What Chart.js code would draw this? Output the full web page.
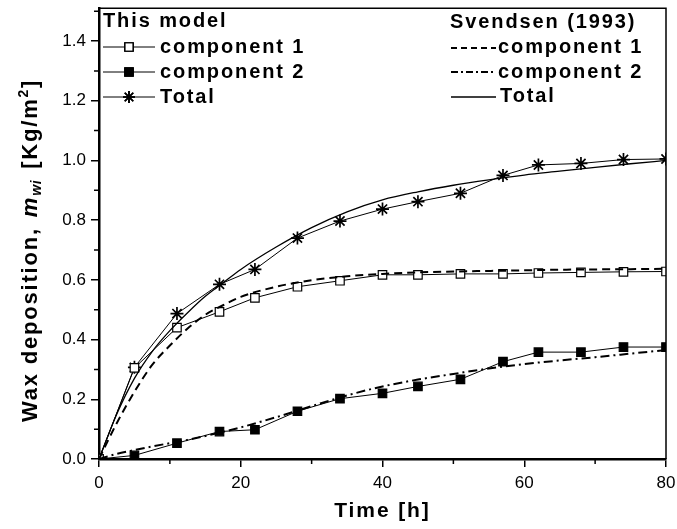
<!DOCTYPE html>
<html>
<head>
<meta charset="utf-8">
<script src="https://cdn.jsdelivr.net/npm/chart.js@4.4.0/dist/chart.umd.min.js"></script>
<style>
  html, body { margin: 0; padding: 0; background: #fff; }
</style>
</head>
<body>
<canvas id="chart" width="677" height="529"></canvas>
<script>
// This model: sampling times [h] and deposits [Kg/m2]
const modelTime = [0, 5, 11, 17, 22, 28, 34, 40, 45, 51, 57, 62, 68, 74, 80];
const modelComp1 = [0, 0.305, 0.44, 0.493, 0.54, 0.577, 0.597, 0.617, 0.617, 0.62, 0.62, 0.623, 0.625, 0.627, 0.628];
const modelComp2 = [0, 0.012, 0.053, 0.092, 0.098, 0.16, 0.202, 0.22, 0.243, 0.267, 0.326, 0.358, 0.358, 0.375, 0.375];
const modelTotal = [0, 0.307, 0.487, 0.585, 0.635, 0.74, 0.797, 0.837, 0.862, 0.89, 0.95, 0.985, 0.99, 1.003, 1.005];

// Svendsen (1993) curves
const svTime = [0, 2.5, 5, 7.5, 10, 12.5, 15, 17.5, 20, 25, 30, 35, 40, 45, 50, 55, 60, 65, 70, 75, 80];
const svComp1 = [0, 0.12, 0.225, 0.315, 0.38, 0.437, 0.483, 0.515, 0.543, 0.577, 0.599, 0.612, 0.62, 0.625, 0.628, 0.63, 0.632, 0.634, 0.635, 0.636, 0.637];
const svComp2 = [0, 0.017, 0.03, 0.042, 0.053, 0.064, 0.077, 0.091, 0.106, 0.14, 0.177, 0.213, 0.243, 0.266, 0.285, 0.303, 0.318, 0.33, 0.341, 0.353, 0.365];
const svTotal = [0, 0.15, 0.27, 0.36, 0.43, 0.49, 0.545, 0.59, 0.635, 0.71, 0.775, 0.828, 0.868, 0.895, 0.917, 0.935, 0.951, 0.964, 0.977, 0.989, 1.0];

const xTicks = [0, 20, 40, 60, 80];
const xMinor = [10, 30, 50, 70];
const yTicks = [0, 0.2, 0.4, 0.6, 0.8, 1.0, 1.2, 1.4];
const yMinor = [0.1, 0.3, 0.5, 0.7, 0.9, 1.1, 1.3, 1.5];

const FONT = '"Liberation Sans", Arial, sans-serif';

const pts = (xs, ys) => xs.map((x, i) => ({ x: x, y: ys[i] }));

// legend sample: a short line with an optional marker in the middle
function sample(ctx, x1, x2, y, dash, lw, style, fill) {
    ctx.save();
    ctx.strokeStyle = '#000';
    ctx.lineWidth = lw;
    ctx.setLineDash(dash);
    ctx.beginPath();
    ctx.moveTo(x1, y);
    ctx.lineTo(x2, y);
    ctx.stroke();
    ctx.setLineDash([]);
    if (style) {
        ctx.fillStyle = fill;
        ctx.lineWidth = style === 'star' ? 1.7 : 1.2;
        Chart.helpers.drawPoint(ctx, { pointStyle: style, radius: 6, borderWidth: ctx.lineWidth }, (x1 + x2) / 2, y);
        ctx.stroke();
    }
    ctx.restore();
}

const extras = {
    id: 'extras',
    afterDraw(chart) {
        const ctx = chart.ctx;
        const { left, right, top, bottom } = chart.chartArea;
        const xs = chart.scales.x, ys = chart.scales.y;
        ctx.save();

        // top and right frame
        ctx.strokeStyle = '#000';
        ctx.lineWidth = 1.5;
        ctx.beginPath();
        ctx.moveTo(left, top);
        ctx.lineTo(right, top);
        ctx.lineTo(right, bottom);
        ctx.stroke();

        // minor ticks
        ctx.beginPath();
        xMinor.forEach(v => {
            const px = xs.getPixelForValue(v);
            ctx.moveTo(px, bottom);
            ctx.lineTo(px, bottom + 5);
        });
        yMinor.forEach(v => {
            const py = ys.getPixelForValue(v);
            ctx.moveTo(left, py);
            ctx.lineTo(left - 5, py);
        });
        ctx.stroke();

        ctx.fillStyle = '#000';
        ctx.textBaseline = 'alphabetic';

        // x title
        ctx.font = 'bold 21px ' + FONT;
        ctx.letterSpacing = '1.9px';
        ctx.textAlign = 'center';
        ctx.fillText('Time [h]', (left + right) / 2, 517);

        // y title, rotated, with italic subscript and superscript
        ctx.save();
        ctx.translate(37, 422);
        ctx.rotate(-Math.PI / 2);
        ctx.textAlign = 'left';
        ctx.letterSpacing = '1.8px';
        let cx = 0;
        ctx.font = 'bold 22px ' + FONT;
        ctx.fillText('Wax deposition,', cx, 0);
        cx += ctx.measureText('Wax deposition,').width + 10;
        ctx.font = 'italic bold 22px ' + FONT;
        ctx.fillText('m', cx, 0);
        cx += ctx.measureText('m').width;
        ctx.font = 'italic bold 14px ' + FONT;
        ctx.letterSpacing = '0.6px';
        ctx.fillText('wi', cx, 4);
        cx += ctx.measureText('wi').width + 11;
        ctx.font = 'bold 22px ' + FONT;
        ctx.letterSpacing = '1.8px';
        ctx.fillText('[Kg/m', cx, 0);
        cx += ctx.measureText('[Kg/m').width;
        ctx.font = 'bold 14px ' + FONT;
        ctx.fillText('2', cx, -9);
        cx += ctx.measureText('2').width;
        ctx.font = 'bold 22px ' + FONT;
        ctx.fillText(']', cx, 0);
        ctx.restore();

        // legends
        ctx.font = 'bold 20px ' + FONT;
        ctx.letterSpacing = '1.9px';
        ctx.textAlign = 'left';
        ctx.fillText('This model', 103, 27);
        ctx.fillText('component 1', 160, 53);
        ctx.fillText('component 2', 160, 78);
        ctx.fillText('Total', 160, 103);
        ctx.fillText('Svendsen (1993)', 450, 28);
        ctx.fillText('component 1', 498, 53);
        ctx.fillText('component 2', 498, 78);
        ctx.fillText('Total', 500, 102);

        sample(ctx, 103, 155, 47, [], 1, 'rect', '#fff');
        sample(ctx, 103, 155, 72, [], 1, 'rect', '#000');
        sample(ctx, 103, 155, 97, [], 1, 'star', '#000');
        sample(ctx, 451, 496, 48, [6, 4], 2, null);
        sample(ctx, 451, 496, 72, [7, 3, 2, 3], 2, null);
        sample(ctx, 451, 496, 97, [], 1.3, null);

        ctx.restore();
    }
};

new Chart(document.getElementById('chart').getContext('2d'), {
    type: 'line',
    data: {
        datasets: [
            {
                label: 'Svendsen component 1',
                data: pts(svTime, svComp1),
                borderColor: '#000',
                borderWidth: 2,
                borderDash: [8, 5],
                pointRadius: 0,
                cubicInterpolationMode: 'monotone'
            },
            {
                label: 'Svendsen component 2',
                data: pts(svTime, svComp2),
                borderColor: '#000',
                borderWidth: 2,
                borderDash: [9, 4, 2, 4],
                pointRadius: 0,
                cubicInterpolationMode: 'monotone'
            },
            {
                label: 'Svendsen Total',
                data: pts(svTime, svTotal),
                borderColor: '#000',
                borderWidth: 1.3,
                pointRadius: 0,
                cubicInterpolationMode: 'monotone'
            },
            {
                label: 'component 1',
                data: pts(modelTime, modelComp1),
                borderColor: '#000',
                borderWidth: 1,
                pointStyle: 'rect',
                pointRadius: 6,
                pointBackgroundColor: '#fff',
                pointBorderColor: '#000',
                pointBorderWidth: 1.2
            },
            {
                label: 'component 2',
                data: pts(modelTime, modelComp2),
                borderColor: '#000',
                borderWidth: 1,
                pointStyle: 'rect',
                pointRadius: 6,
                pointBackgroundColor: '#000',
                pointBorderColor: '#000',
                pointBorderWidth: 1.2
            },
            {
                label: 'Total',
                data: pts(modelTime, modelTotal),
                borderColor: '#000',
                borderWidth: 1,
                pointStyle: 'star',
                pointRadius: 6.5,
                pointBorderColor: '#000',
                pointBorderWidth: 1.7
            }
        ]
    },
    options: {
        responsive: false,
        animation: false,
        layout: { padding: { top: 6, right: 11, left: 0, bottom: 0 } },
        plugins: {
            legend: { display: false },
            tooltip: { enabled: false }
        },
        scales: {
            x: {
                type: 'linear',
                min: 0,
                max: 80,
                afterBuildTicks: s => { s.ticks = xTicks.map(v => ({ value: v })); },
                afterFit: s => { s.height = 70; s.paddingLeft = 0; s.paddingRight = 0; },
                ticks: {
                    color: '#000',
                    font: { family: FONT, size: 17 },
                    padding: 6,
                    maxRotation: 0
                },
                grid: { drawOnChartArea: false, tickLength: 8, color: '#000', lineWidth: 1.5 },
                border: { color: '#000', width: 2.5 }
            },
            y: {
                min: 0,
                max: 1.51,
                afterBuildTicks: s => { s.ticks = yTicks.map(v => ({ value: v })); },
                afterFit: s => { s.width = 99; s.paddingTop = 0; s.paddingBottom = 0; },
                ticks: {
                    color: '#000',
                    font: { family: FONT, size: 17 },
                    padding: 5,
                    callback: v => v.toFixed(1)
                },
                grid: { drawOnChartArea: false, tickLength: 8, color: '#000', lineWidth: 1.5 },
                border: { color: '#000', width: 2.5 }
            }
        }
    },
    plugins: [extras]
});
</script>
</body>
</html>
